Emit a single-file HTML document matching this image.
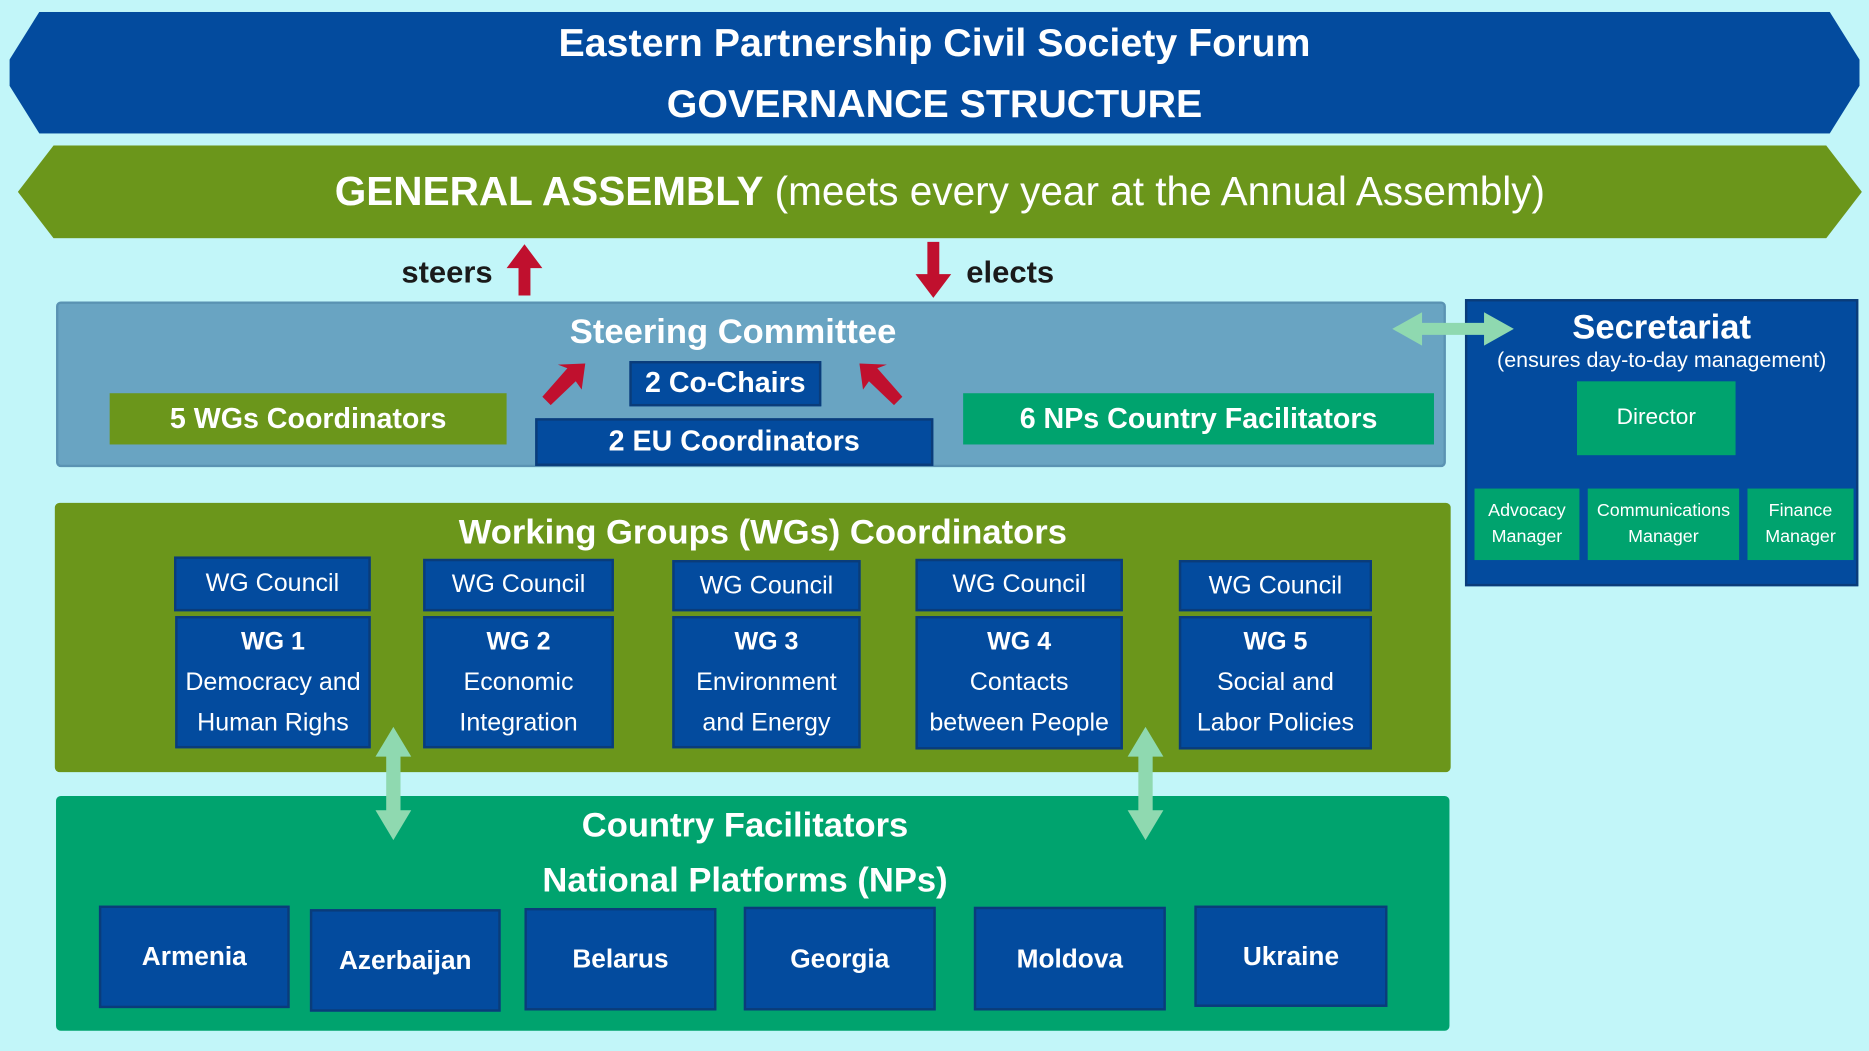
<!DOCTYPE html>
<html><head><meta charset="utf-8">
<style>
html,body{margin:0;padding:0;width:1869px;height:1051px;overflow:hidden;background:#c2f6f9;}
#c{position:absolute;left:0;top:0;width:1568px;height:882px;transform:scale(1.192,1.1916);transform-origin:0 0;font-family:"Liberation Sans",sans-serif;}
.a{position:absolute;box-sizing:border-box;display:flex;align-items:center;justify-content:center;text-align:center;color:#fff;}
.db{background:#034b9e;border:2px solid #0a3c7a;}
.ol{background:#6b961b;}
.tg{background:#00a36e;}
.b{font-weight:bold;}
</style></head><body><div id="c">
<div class="a db b" style="left:8px;top:10px;width:1552px;height:102px;flex-direction:column;font-size:33px;line-height:51px;border:none;clip-path:polygon(25px 0,1527px 0,1552px 40px,1552px 62px,1527px 102px,25px 102px,0 62px,0 40px);">
<div>Eastern Partnership Civil Society Forum</div><div>GOVERNANCE STRUCTURE</div></div>
<div class="a ol" style="left:15px;top:122px;width:1547px;height:78px;font-size:34px;clip-path:polygon(30px 0,1517px 0,1547px 39px,1517px 78px,30px 78px,0 39px);"><span><b>GENERAL ASSEMBLY</b> (meets every year at the Annual Assembly)</span></div>
<div class="a b" style="left:330px;top:210px;width:90px;height:36px;color:#1a1a1a;font-size:26px;">steers</div>
<div class="a b" style="left:805px;top:210px;width:85px;height:36px;color:#1a1a1a;font-size:26px;">elects</div>
<svg style="position:absolute;left:0;top:0" width="1568" height="882">
<polygon points="440,205 455,225 445,225 445,248 435,248 435,225 425,225" fill="#c0102e"/>
<polygon points="783,250 798,230 788,230 788,203 778,203 778,230 768,230" fill="#c0102e"/>
</svg>
<div class="a" style="left:47px;top:253px;width:1166px;height:139px;background:#69a4c2;border:2px solid #5a93b3;border-radius:4px;"></div>
<div class="a b" style="left:415px;top:260px;width:400px;height:38px;font-size:29px;">Steering Committee</div>
<div class="a db b" style="left:528px;top:303px;width:161px;height:38px;font-size:24px;">2 Co-Chairs</div>
<div class="a db b" style="left:449px;top:351px;width:334px;height:40px;font-size:24px;">2 EU Coordinators</div>
<div class="a ol b" style="left:92px;top:330px;width:333px;height:43px;font-size:24px;">5 WGs Coordinators</div>
<div class="a tg b" style="left:808px;top:330px;width:395px;height:43px;font-size:24px;">6 NPs Country Facilitators</div>
<div class="a db" style="left:1229px;top:251px;width:330px;height:241px;"></div>
<div class="a b" style="left:1229px;top:256px;width:330px;height:38px;font-size:29px;">Secretariat</div>
<div class="a" style="left:1229px;top:290px;width:330px;height:24px;font-size:18px;">(ensures day-to-day management)</div>
<div class="a tg" style="left:1323px;top:320px;width:133px;height:62px;font-size:19px;">Director</div>
<div class="a tg" style="left:1237px;top:410px;width:88px;height:60px;font-size:15px;line-height:22px;">Advocacy<br>Manager</div>
<div class="a tg" style="left:1332px;top:410px;width:127px;height:60px;font-size:15px;line-height:22px;">Communications<br>Manager</div>
<div class="a tg" style="left:1466px;top:410px;width:89px;height:60px;font-size:15px;line-height:22px;">Finance<br>Manager</div>
<div class="a ol" style="left:46px;top:422px;width:1171px;height:226px;border-radius:4px;"></div>
<div class="a b" style="left:240px;top:428px;width:800px;height:38px;font-size:29px;">Working Groups (WGs) Coordinators</div>
<div class="a db" style="left:146px;top:467px;width:165px;height:46px;font-size:21px;">WG Council</div>
<div class="a db" style="left:147px;top:517px;width:164px;height:111px;font-size:21px;line-height:34px;"><div><b>WG 1</b><br>Democracy and<br>Human Righs</div></div>
<div class="a db" style="left:355px;top:469px;width:160px;height:44px;font-size:21px;">WG Council</div>
<div class="a db" style="left:355px;top:517px;width:160px;height:111px;font-size:21px;line-height:34px;"><div><b>WG 2</b><br>Economic<br>Integration</div></div>
<div class="a db" style="left:564px;top:470px;width:158px;height:43px;font-size:21px;">WG Council</div>
<div class="a db" style="left:564px;top:517px;width:158px;height:111px;font-size:21px;line-height:34px;"><div><b>WG 3</b><br>Environment<br>and Energy</div></div>
<div class="a db" style="left:768px;top:469px;width:174px;height:44px;font-size:21px;">WG Council</div>
<div class="a db" style="left:768px;top:517px;width:174px;height:112px;font-size:21px;line-height:34px;"><div><b>WG 4</b><br>Contacts<br>between People</div></div>
<div class="a db" style="left:989px;top:470px;width:162px;height:43px;font-size:21px;">WG Council</div>
<div class="a db" style="left:989px;top:517px;width:162px;height:112px;font-size:21px;line-height:34px;"><div><b>WG 5</b><br>Social and<br>Labor Policies</div></div>
<div class="a tg" style="left:47px;top:668px;width:1169px;height:197px;border-radius:4px;"></div>
<div class="a b" style="left:225px;top:670px;width:800px;height:92px;font-size:29px;line-height:46px;"><div>Country Facilitators<br>National Platforms (NPs)</div></div>
<div class="a db b" style="left:83px;top:760px;width:160px;height:86px;font-size:22px;">Armenia</div>
<div class="a db b" style="left:260px;top:763px;width:160px;height:86px;font-size:22px;">Azerbaijan</div>
<div class="a db b" style="left:440px;top:762px;width:161px;height:86px;font-size:22px;">Belarus</div>
<div class="a db b" style="left:624px;top:761px;width:161px;height:87px;font-size:22px;">Georgia</div>
<div class="a db b" style="left:817px;top:761px;width:161px;height:87px;font-size:22px;">Moldova</div>
<div class="a db b" style="left:1002px;top:760px;width:162px;height:85px;font-size:22px;">Ukraine</div>
<svg style="position:absolute;left:0;top:0" width="1568" height="882">
<g fill="#8fd9b0">
<polygon points="1168,276 1193,262 1193,271 1245,271 1245,262 1270,276 1245,290 1245,281 1193,281 1193,290"/>
<polygon points="330,610 345,635 336,635 336,680 345,680 330,705 315,680 324,680 324,635 315,635"/>
<polygon points="961,610 976,635 967,635 967,680 976,680 961,705 946,680 955,680 955,635 946,635"/>
</g>
<g fill="#c0102e">
<polygon points="455,333 476,309 468,306 491,305 488,327 483,320 462,340"/>
<polygon points="757,333 736,309 744,306 721,305 724,327 729,320 750,340"/>
</g>
</svg>
</div></body></html>
